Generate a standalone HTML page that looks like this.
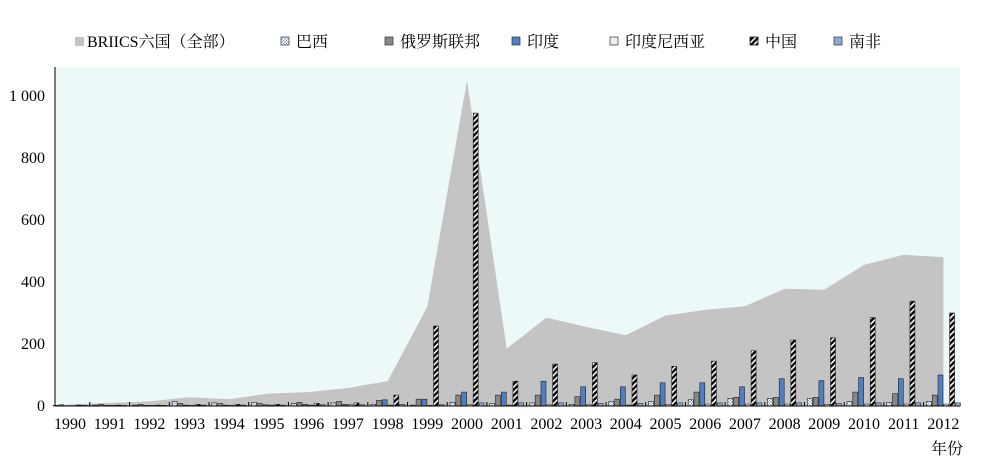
<!DOCTYPE html>
<html><head><meta charset="utf-8"><style>
body{margin:0;background:#fff;}
svg text{font-family:"Liberation Serif","Noto Serif CJK SC",serif;}
</style></head><body>
<svg id="s" width="1000" height="466" xmlns="http://www.w3.org/2000/svg">
<defs>
<pattern id="cn" width="4" height="4" patternUnits="userSpaceOnUse" patternTransform="rotate(45)">
<rect width="4" height="4" fill="#000"/><rect x="0" width="1.6" height="4" fill="#fff"/>
</pattern>
<pattern id="br" width="3" height="3" patternUnits="userSpaceOnUse">
<rect width="3" height="3" fill="#fff"/><path d="M0,0L3,3M3,0L0,3" stroke="#6a8fb0" stroke-width="0.5"/>
</pattern>
</defs>
<rect x="55" y="67" width="905" height="339" fill="#edf8f9"/>
<g id="g"></g>
<line x1="55" y1="67" x2="55" y2="406" stroke="#000"/>
<line x1="55" y1="406" x2="960" y2="406" stroke="#000"/>
<g font-size="16" fill="#000">
<text x="45" y="101" text-anchor="end">1 000</text>
<text x="45" y="163" text-anchor="end">800</text>
<text x="45" y="225" text-anchor="end">600</text>
<text x="45" y="287" text-anchor="end">400</text>
<text x="45" y="349" text-anchor="end">200</text>
<text x="45" y="411" text-anchor="end">0</text>
<text x="963" y="454" text-anchor="end">年份</text>
</g>
<g font-size="16">
<rect x="75" y="37" width="9" height="9" fill="#c4c4c4"/><text x="87" y="47">BRIICS六国（全部）</text>
<rect x="281" y="37" width="8" height="8" fill="url(#br)" stroke="#333" stroke-width="0.7"/><text x="296" y="47">巴西</text>
<rect x="385" y="37" width="8" height="8" fill="#888" stroke="#333" stroke-width="0.7"/><text x="400" y="47">俄罗斯联邦</text>
<rect x="512" y="37" width="8" height="8" fill="#4f7fbf" stroke="#333" stroke-width="0.7"/><text x="527" y="47">印度</text>
<rect x="610" y="37" width="8" height="8" fill="#eee" stroke="#333" stroke-width="0.7"/><text x="625" y="47">印度尼西亚</text>
<rect x="750" y="37" width="8" height="8" fill="url(#cn)" stroke="#000" stroke-width="0.7"/><text x="765" y="47">中国</text>
<rect x="834" y="37" width="8" height="8" fill="#8fa8d8" stroke="#333" stroke-width="0.7"/><text x="849" y="47">南非</text>
</g>
</svg>
<script>
var tot=[5,10,15,28,22,40,45,58,80,320,1050,185,285,255,228,292,310,322,378,375,455,488,480];
var br=[2,3,3,15,10,12,8,10,5,3,12,8,10,5,15,15,20,25,25,25,15,12,15];
var ru=[4,5,5,8,8,8,12,15,18,22,35,35,35,30,22,35,45,28,28,28,45,40,35];
var ind=[1,2,2,3,3,4,5,5,20,22,45,45,80,62,62,75,75,62,88,82,92,88,100];
var ido=[1,2,2,2,2,3,3,4,3,2,4,3,4,4,3,5,6,6,6,5,6,6,6];
var cn=[3,3,3,5,5,5,8,10,35,258,945,80,135,140,100,128,145,178,213,220,285,338,300];
var sa=[2,2,2,3,3,3,4,4,5,4,10,10,10,8,8,10,10,10,10,8,10,10,10];
var Y=function(v){return 406-v*0.31};
var X=function(i){return 70+39.7*i};
var h='';
var pts='57,406 ';
for(var i=0;i<23;i++)pts+=X(i).toFixed(1)+','+Y(tot[i]).toFixed(1)+' ';
pts+=X(22)+',406';
h+='<polygon points="'+pts+'" fill="#c4c4c4"/>';
var ser=[[br,'url(#br)'],[ru,'#888'],[ind,'#4f7fbf'],[ido,'#eee'],[cn,'url(#cn)'],[sa,'#8fa8d8']];
for(var i=0;i<23;i++){
 for(var k=0;k<6;k++){
  var v=ser[k][0][i],x=X(i)-17+k*5.8;
  h+='<rect x="'+x.toFixed(1)+'" y="'+Y(v).toFixed(1)+'" width="5" height="'+(v*0.31).toFixed(1)+'" fill="'+ser[k][1]+'" stroke="#222" stroke-width="0.6"/>';
 }
 var tx=X(i)+19.85;
 if(i<22)h+='<line x1="'+tx.toFixed(1)+'" y1="402" x2="'+tx.toFixed(1)+'" y2="406" stroke="#000"/>';
 h+='<text x="'+X(i).toFixed(1)+'" y="429" text-anchor="middle" font-size="16">'+(1990+i)+'</text>';
}
document.getElementById('g').innerHTML=h;
</script>
</body></html>
